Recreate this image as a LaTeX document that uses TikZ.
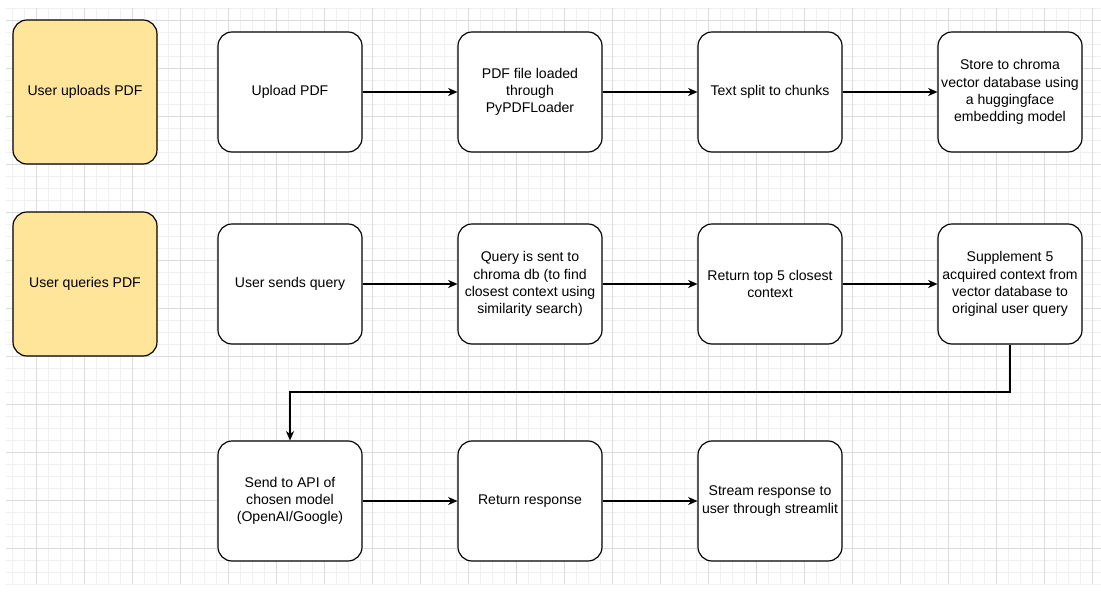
\documentclass[tikz,border=0pt]{standalone}
\usepackage{fontspec}
\setmainfont{Liberation Sans}
\usetikzlibrary{arrows.meta}
\definecolor{userfill}{HTML}{FFE599}
\definecolor{gridminor}{HTML}{F0F0F0}
\definecolor{gridmajor}{HTML}{DCDCDC}

\begin{document}
\begin{tikzpicture}[x=0.03cm, y=-0.03cm,
		font=\fontsize{12}{14.7}\selectfont,
		box/.style={draw, line width=1pt, fill=white, rounded corners=0.42cm,
			align=center, inner sep=0pt, minimum width=4.32cm, minimum height=3.6cm},
		user/.style={box, fill=userfill, minimum height=4.32cm},
		flow/.style={line width=0.9pt, -{Stealth[length=8pt, width=7pt, inset=2.5pt]}}]
		\useasboundingbox (0,0) rectangle (1101,594);
		% grid
		\foreach \gx in {12,24,...,1092} \draw[gridminor, line width=0.5pt] (\gx,8) -- (\gx,584);
		\foreach \gy in {8,20,...,584} \draw[gridminor, line width=0.5pt] (6,\gy) -- (1101,\gy);
		\foreach \gx in {36,84,...,1092} \draw[gridmajor, line width=0.5pt] (\gx,8) -- (\gx,584);
		\foreach \gy in {20,68,...,548} \draw[gridmajor, line width=0.5pt] (6,\gy) -- (1101,\gy);
		% upload
		\node[user] (uu) at (85,92) {User uploads PDF};
		\node[box] (up) at (290,92) {Upload PDF};
		\node[box] (ld) at (530,92) {PDF file loaded\\through\\PyPDFLoader};
		\node[box] (sp) at (770,92) {Text split to chunks};
		\node[box] (st) at (1010,92) {Store to chroma\\vector database using\\a huggingface\\embedding model};
		% query
		\node[user] (uq) at (85,284) {User queries PDF};
		\node[box] (sq) at (290,284) {User sends query};
		\node[box] (cq) at (530,284) {Query is sent to\\chroma db (to find\\closest context using\\similarity search)};
		\node[box] (rt) at (770,284) {Return top 5 closest\\context};
		\node[box] (sup) at (1010,284) {Supplement 5\\acquired context from\\vector database to\\original user query};
		\node[box] (api) at (290,501) {Send to API of\\chosen model\\(OpenAI/Google)};
		\node[box] (rr) at (530,501) {Return response};
		\node[box] (sr) at (770,501) {Stream response to\\user through streamlit};
		\coordinate (bend) at (1010,392);
		\draw (up) edge[flow] (ld);
		\draw (ld) edge[flow] (sp);
		\draw (sp) edge[flow] (st);
		\draw (sq) edge[flow] (cq);
		\draw (cq) edge[flow] (rt);
		\draw (rt) edge[flow] (sup);
		\draw[flow] (sup) -- (bend) -| (api);
		\draw (api) edge[flow] (rr);
		\draw (rr) edge[flow] (sr);
	\end{tikzpicture}
\end{document}
